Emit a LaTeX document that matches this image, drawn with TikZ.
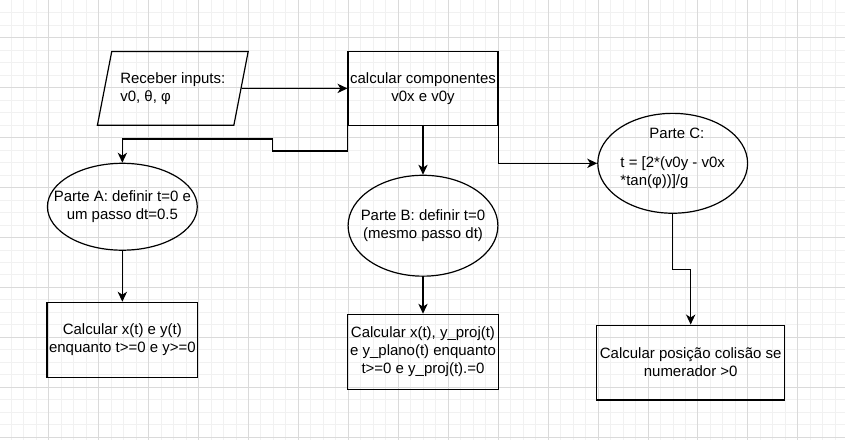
\documentclass[tikz,border=0pt]{standalone}
\usepackage{fontspec}
\setmainfont{Liberation Sans}
\usepackage{tikz}
\usetikzlibrary{arrows.meta,positioning,shapes.geometric}

\definecolor{gridminor}{RGB}{241,241,241}
\definecolor{gridmajor}{RGB}{218,218,218}
\newcommand{\flowfont}{\fontsize{11.25}{13.5}\selectfont}

\begin{document}
\begin{tikzpicture}[
  x=0.75pt, y=-0.75pt,
  font=\flowfont,
  box/.style={draw, line width=0.9pt, align=center, inner sep=1pt,
              minimum width=113.25pt, minimum height=56.25pt},
  ell/.style={draw, line width=0.9pt, ellipse, inner sep=0pt, minimum width=112.5pt},
  io/.style={draw, line width=0.9pt, trapezium, trapezium left angle=70.6,
             trapezium right angle=109.4, trapezium stretches body, align=left,
             minimum width=113.25pt, minimum height=55.5pt},
  arr/.style={-{Stealth[length=7.5pt,width=7pt,inset=2.2pt]}, line width=0.9pt},
  txt/.style={align=center, inner sep=0pt}
]
% grid of the canvas
\fill[white] (0,0) rectangle (845,440);
\foreach \gx in {10.8,23.3,...,845} \draw[gridminor, line width=0.75pt] (\gx,0) -- (\gx,440);
\foreach \gy in {12.3,24.8,...,440} \draw[gridminor, line width=0.75pt] (0,\gy) -- (845,\gy);
\foreach \gx in {48.3,98.3,...,845} \draw[gridmajor, line width=0.75pt] (\gx,0) -- (\gx,440);
\foreach \gy in {37.3,87.3,...,440} \draw[gridmajor, line width=0.75pt] (0,\gy) -- (845,\gy);
\useasboundingbox (0,0) rectangle (845,440);

\node[io] (inp) at (172.5,88) {Receber inputs:\\v0, θ, φ};
\node[box, minimum width=112.5pt, minimum height=55.5pt] (comp) at (423,88)
  {calcular componentes\\v0x e v0y};

\node[ell, minimum height=65.25pt] (parteA) at (122,206.5) {};
\node[txt] (txtA) at (parteA) {Parte A: definir t=0 e\\um passo dt=0.5};
\node[box, below=38.25pt of parteA] (calcA) {Calcular x(t) e y(t)\\enquanto t>=0 e y>=0};

\node[ell, minimum height=75.75pt] (parteB) at (423,225.5) {};
\node[txt] (txtB) at (parteB) {Parte B: definir t=0\\(mesmo passo dt)};
\node[box, below=27.75pt of parteB] (calcB)
  {Calcular x(t), y\_proj(t)\\e y\_plano(t) enquanto\\t>=0 e y\_proj(t).=0};

\node[ell, minimum height=75pt] (parteC) at (673,163) {};
\node[txt, align=left] (txtC) at ([yshift=3.75pt]parteC.center)
  {\hspace*{21.75pt}Parte C:\\[8.25pt]t = [2*(v0y - v0x\\{}*tan(φ))]/g};
\node[box, minimum width=141pt] (calcC) at (691,362.5)
  {Calcular posição colisão se\\numerador >0};

\draw[arr] (inp.east) -- (comp.west);
\draw[arr] (comp.south west) -- ++(0,25) -- ++(-75,0) -- ++(0,-12) -| (parteA.north);
\draw[arr] (comp.south) -- (parteB.north);
\draw[arr] (comp.south east) |- (parteC.west);
\draw[arr] (parteA) -- (calcA);
\draw[arr] (parteB) -- (calcB);
\draw[arr] (parteC.south) -- ++(0,56) -| (calcC.north);
\end{tikzpicture}
\end{document}
